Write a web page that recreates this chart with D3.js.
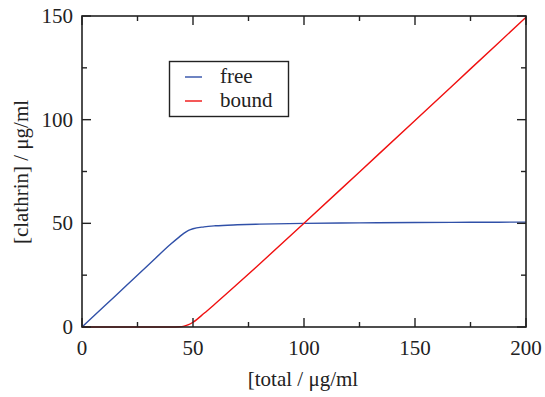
<!DOCTYPE html>
<html lang="en">
  <head>
    <meta charset="UTF-8" />
    <title>Clathrin free / bound</title>
    <script src="https://d3js.org/d3.v7.min.js"></script>
    <style>
      body {
        margin: 0;
        background: #fff;
      }
    </style>
  </head>
  <body>
    <svg id="chart" width="545" height="397"></svg>

    <script>
      // values
      const total = [0, 10, 20, 30, 40, 44, 46, 48, 50, 55, 60, 70, 80, 100, 125, 150, 175, 200];
      const free = [0, 10, 20, 30, 40, 43.6, 45.3, 46.6, 47.4, 48.3, 48.8, 49.3, 49.6, 50, 50.2, 50.4, 50.5, 50.6];
      const bound = [0, 0, 0, 0, 0, 0.1, 0.4, 1.1, 2.3, 6.6, 11.2, 20.7, 30.4, 50, 74.8, 99.6, 124.5, 149.4];
      const xTicks = [0, 50, 100, 150, 200];
      const yTicks = [0, 50, 100, 150];
      const seriesNames = ["free", "bound"];
      const seriesColors = ["#3050a8", "#f01010"];

      const FONT = "'Liberation Serif', 'Times New Roman', Times, serif";

      const svg = d3.select("#chart");
      const margin = { left: 82, right: 19, top: 16, bottom: 70 };
      const width = 545 - margin.left - margin.right;
      const height = 397 - margin.top - margin.bottom;

      const x = d3.scaleLinear().domain([0, 200]).range([margin.left, margin.left + width]);
      const y = d3.scaleLinear().domain([0, 150]).range([margin.top + height, margin.top]);

      const g = svg.append("g").attr("font-family", FONT).attr("fill", "#222");

      // curves
      const line = d3
        .line()
        .x((d) => x(d[0]))
        .y((d) => y(d[1]))
        .curve(d3.curveMonotoneX);

      [free, bound].forEach((vals, i) => {
        g.append("path")
          .datum(total.map((t, j) => [t, vals[j]]))
          .attr("fill", "none")
          .attr("stroke", seriesColors[i])
          .attr("stroke-width", 1.4)
          .attr("d", line);
      });

      // frame
      g.append("rect")
        .attr("x", x(0))
        .attr("y", y(150))
        .attr("width", width)
        .attr("height", height)
        .attr("fill", "none")
        .attr("stroke", "#222")
        .attr("stroke-width", 1.6);

      // inward ticks on all four sides
      const minorX = d3.range(0, 201, 25);
      const minorY = d3.range(0, 151, 25);
      minorX.forEach((v) => {
        const len = v % 50 === 0 ? 9 : 5;
        g.append("line").attr("x1", x(v)).attr("x2", x(v)).attr("y1", y(0)).attr("y2", y(0) - len).attr("stroke", "#222").attr("stroke-width", 1.4);
        g.append("line").attr("x1", x(v)).attr("x2", x(v)).attr("y1", y(150)).attr("y2", y(150) + len).attr("stroke", "#222").attr("stroke-width", 1.4);
      });
      minorY.forEach((v) => {
        const len = v % 50 === 0 ? 9 : 5;
        g.append("line").attr("y1", y(v)).attr("y2", y(v)).attr("x1", x(0)).attr("x2", x(0) + len).attr("stroke", "#222").attr("stroke-width", 1.4);
        g.append("line").attr("y1", y(v)).attr("y2", y(v)).attr("x1", x(200)).attr("x2", x(200) - len).attr("stroke", "#222").attr("stroke-width", 1.4);
      });

      // tick labels
      g.selectAll(".xlab")
        .data(xTicks)
        .enter()
        .append("text")
        .attr("x", (d) => x(d))
        .attr("y", y(0) + 28)
        .attr("text-anchor", "middle")
        .attr("font-size", 21)
        .text((d) => d);

      g.selectAll(".ylab")
        .data(yTicks)
        .enter()
        .append("text")
        .attr("x", x(0) - 9)
        .attr("y", (d) => y(d) + 7)
        .attr("text-anchor", "end")
        .attr("font-size", 21)
        .text((d) => d);

      // axis titles
      g.append("text")
        .attr("x", 303)
        .attr("y", 386)
        .attr("text-anchor", "middle")
        .attr("font-size", 21)
        .text("[total / μg/ml");

      g.append("text")
        .attr("transform", "translate(28," + 172 + ") rotate(-90)")
        .attr("text-anchor", "middle")
        .attr("font-size", 21)
        .text("[clathrin] / μg/ml");

      // legend
      const leg = g.append("g");
      leg.append("rect")
        .attr("x", 169.5)
        .attr("y", 61.5)
        .attr("width", 119)
        .attr("height", 55)
        .attr("fill", "#fff")
        .attr("stroke", "#222")
        .attr("stroke-width", 1.4);
      seriesNames.forEach((name, i) => {
        const ly = 77 + i * 24;
        leg.append("line")
          .attr("x1", 185)
          .attr("x2", 202)
          .attr("y1", ly)
          .attr("y2", ly)
          .attr("stroke", seriesColors[i])
          .attr("stroke-width", 1.4);
        leg.append("text")
          .attr("x", 220)
          .attr("y", ly + 6)
          .attr("font-size", 21)
          .text(name);
      });
    </script>
  </body>
</html>
